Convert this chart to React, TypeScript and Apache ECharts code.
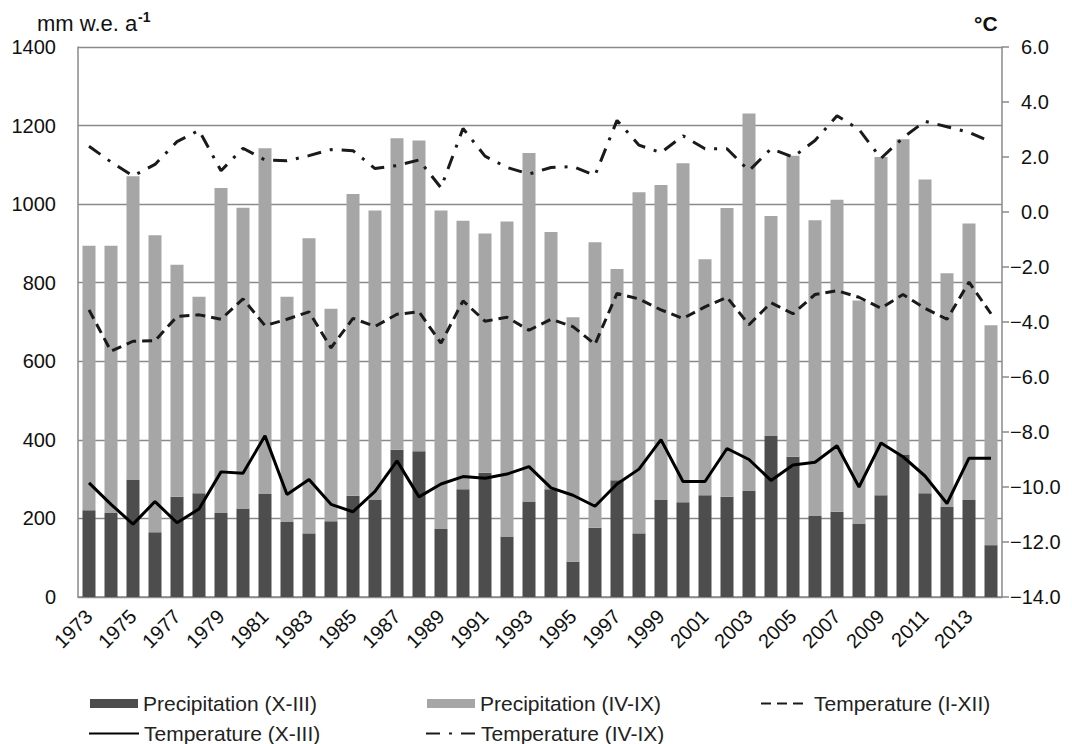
import React, { useEffect, useRef } from "react";
import * as echarts from "echarts";

const years = [
  "1973", "1974", "1975", "1976", "1977", "1978", "1979", "1980", "1981", "1982",
  "1983", "1984", "1985", "1986", "1987", "1988", "1989", "1990", "1991", "1992",
  "1993", "1994", "1995", "1996", "1997", "1998", "1999", "2000", "2001", "2002",
  "2003", "2004", "2005", "2006", "2007", "2008", "2009", "2010", "2011", "2012",
  "2013", "2014",
];

// Precipitation X-III (mm w.e. a-1)
const precipWinter = [
  221, 214, 299, 165, 255, 264, 214, 225, 262, 191,
  162, 193, 258, 247, 375, 371, 173, 274, 316, 154,
  243, 274, 90, 176, 297, 162, 247, 241, 259, 255,
  270, 410, 357, 206, 217, 187, 259, 363, 264, 229,
  247, 132,
];

// Precipitation IV-IX (mm w.e. a-1), stacked on X-III
const precipSummer = [
  673, 680, 772, 756, 591, 500, 827, 766, 880, 573,
  751, 541, 768, 737, 793, 791, 811, 684, 609, 802,
  887, 655, 622, 727, 538, 868, 802, 863, 601, 735,
  961, 560, 766, 753, 794, 568, 861, 802, 799, 595,
  704, 560,
];

// Temperature I-XII (°C)
const tempAnnual = [
  -3.56, -5.06, -4.7, -4.68, -3.8, -3.74, -3.9, -3.16, -4.13, -3.9,
  -3.63, -4.94, -3.87, -4.16, -3.72, -3.63, -4.77, -3.23, -3.97, -3.83,
  -4.3, -3.9, -4.17, -4.81, -2.96, -3.16, -3.56, -3.87, -3.45, -3.1,
  -4.1, -3.3, -3.7, -3.0, -2.86, -3.1, -3.5, -3.0, -3.5, -3.9,
  -2.55, -3.7,
];

// Temperature X-III (°C)
const tempWinter = [
  -9.85, -10.63, -11.35, -10.53, -11.3, -10.8, -9.45, -9.5, -8.14, -10.27,
  -9.73, -10.63, -10.9, -10.16, -9.05, -10.36, -9.89, -9.62, -9.68, -9.53,
  -9.26, -10.03, -10.3, -10.7, -9.89, -9.35, -8.28, -9.8, -9.8, -8.6,
  -9.0, -9.76, -9.2, -9.1, -8.5, -10.0, -8.4, -8.9, -9.6, -10.6,
  -8.95, -8.95,
];

// Temperature IV-IX (°C)
const tempSummer = [
  2.39, 1.82, 1.31, 1.73, 2.56, 2.97, 1.5, 2.32, 1.89, 1.86,
  2.05, 2.27, 2.23, 1.58, 1.69, 1.89, 0.88, 3.04, 2.03, 1.62,
  1.38, 1.62, 1.65, 1.33, 3.33, 2.43, 2.16, 2.77, 2.3, 2.3,
  1.5, 2.3, 2.0, 2.6, 3.5, 3.0, 1.95, 2.7, 3.3, 3.1,
  2.9, 2.55,
];

const FONT = "'Liberation Sans', Arial, Helvetica, sans-serif";
const GRAY = "#8a8a8a";

export default function App() {
  const ref = useRef<HTMLDivElement>(null);

  useEffect(() => {
    if (!ref.current) return;
    const chart = echarts.init(ref.current, undefined, { renderer: "svg" });

    const legendBase = {
      orient: "horizontal",
      itemGap: 0,
      textStyle: { fontSize: 21, fontFamily: FONT, color: "#222" },
      selectedMode: false,
    };
    const lineLegend = {
      ...legendBase,
      itemHeight: 14,
      itemStyle: { opacity: 0, borderWidth: 0 },
    };

    chart.setOption({
      animation: false,
      backgroundColor: "#ffffff",
      grid: { left: 78, right: 70, top: 47, bottom: 147, containLabel: false },
      graphic: [
        {
          type: "text",
          left: 37,
          top: 12,
          style: { text: "mm w.e. a", fontSize: 22, fontFamily: FONT, fill: "#111" },
        },
        {
          type: "text",
          left: 138,
          top: 10,
          style: { text: "-1", fontSize: 14, fontWeight: "bold", fontFamily: FONT, fill: "#111" },
        },
        {
          type: "text",
          left: 974,
          top: 13,
          style: { text: "°C", fontSize: 21, fontWeight: "bold", fontFamily: FONT, fill: "#111" },
        },
      ],
      legend: [
        { ...legendBase, left: 85, top: 688, itemWidth: 48, itemHeight: 9, icon: "rect", data: ["Precipitation (X-III)"] },
        { ...legendBase, left: 422, top: 688, itemWidth: 48, itemHeight: 9, icon: "rect", data: ["Precipitation (IV-IX)"] },
        { ...lineLegend, left: 755, top: 688, itemWidth: 48, data: ["Temperature (I-XII)"] },
        { ...lineLegend, left: 83, top: 718, itemWidth: 50, data: ["Temperature (X-III)"] },
        { ...lineLegend, left: 420, top: 718, itemWidth: 50, data: ["Temperature (IV-IX)"] },
      ],
      xAxis: {
        type: "category",
        data: years,
        boundaryGap: true,
        axisLine: { show: true, lineStyle: { color: GRAY, width: 1.5 } },
        axisTick: { show: false },
        axisLabel: {
          interval: 1,
          rotate: 45,
          margin: 16,
          fontSize: 20,
          fontFamily: FONT,
          color: "#111",
        },
        splitLine: { show: false },
      },
      yAxis: [
        {
          type: "value",
          min: 0,
          max: 1400,
          interval: 200,
          position: "left",
          axisLine: { show: true, lineStyle: { color: GRAY, width: 1.5 } },
          axisTick: { show: false },
          axisLabel: {
            fontSize: 20,
            fontFamily: FONT,
            color: "#111",
            margin: 22,
            formatter: (v: number) => String(v),
          },
          splitLine: { show: true, lineStyle: { color: GRAY, width: 1.3 } },
        },
        {
          type: "value",
          min: -14,
          max: 6,
          interval: 2,
          position: "right",
          axisLine: { show: true, lineStyle: { color: GRAY, width: 1.5 } },
          axisTick: { show: true, inside: false, length: 7, lineStyle: { color: GRAY, width: 1.5 } },
          axisLabel: {
            fontSize: 20,
            fontFamily: FONT,
            color: "#111",
            margin: 8,
            formatter: (v: number) => {
              const s = Math.abs(v).toFixed(1);
              return v < 0 ? "\u2212" + s : "{s| }" + s;
            },
            rich: { s: { width: 11, fontSize: 20 } },
          },
          splitLine: { show: false },
        },
      ],
      series: [
        {
          name: "Precipitation (X-III)",
          type: "bar",
          stack: "p",
          yAxisIndex: 0,
          barWidth: 13,
          itemStyle: { color: "#4d4d4d" },
          data: precipWinter,
          z: 2,
        },
        {
          name: "Precipitation (IV-IX)",
          type: "bar",
          stack: "p",
          yAxisIndex: 0,
          barWidth: 13,
          itemStyle: { color: "#a6a6a6" },
          data: precipSummer,
          z: 2,
        },
        {
          name: "Temperature (I-XII)",
          type: "line",
          yAxisIndex: 1,
          symbol: "none",
          showSymbol: false,
          lineStyle: { color: "#1a1a1a", width: 3, type: [10, 6] },
          itemStyle: { color: "#1a1a1a" },
          data: tempAnnual,
          z: 5,
        },
        {
          name: "Temperature (X-III)",
          type: "line",
          yAxisIndex: 1,
          symbol: "none",
          showSymbol: false,
          lineStyle: { color: "#000000", width: 3, type: "solid" },
          itemStyle: { color: "#000000" },
          data: tempWinter,
          z: 5,
        },
        {
          name: "Temperature (IV-IX)",
          type: "line",
          yAxisIndex: 1,
          symbol: "none",
          showSymbol: false,
          lineStyle: { color: "#1a1a1a", width: 3, type: [14, 9, 3, 9] },
          itemStyle: { color: "#1a1a1a" },
          data: tempSummer,
          z: 5,
        },
      ],
    });

    return () => {
      chart.dispose();
    };
  }, []);

  return (
    <div
      ref={ref}
      style={{ position: "fixed", left: 0, top: 0, width: 1072, height: 744, background: "#fff" }}
    />
  );
}
